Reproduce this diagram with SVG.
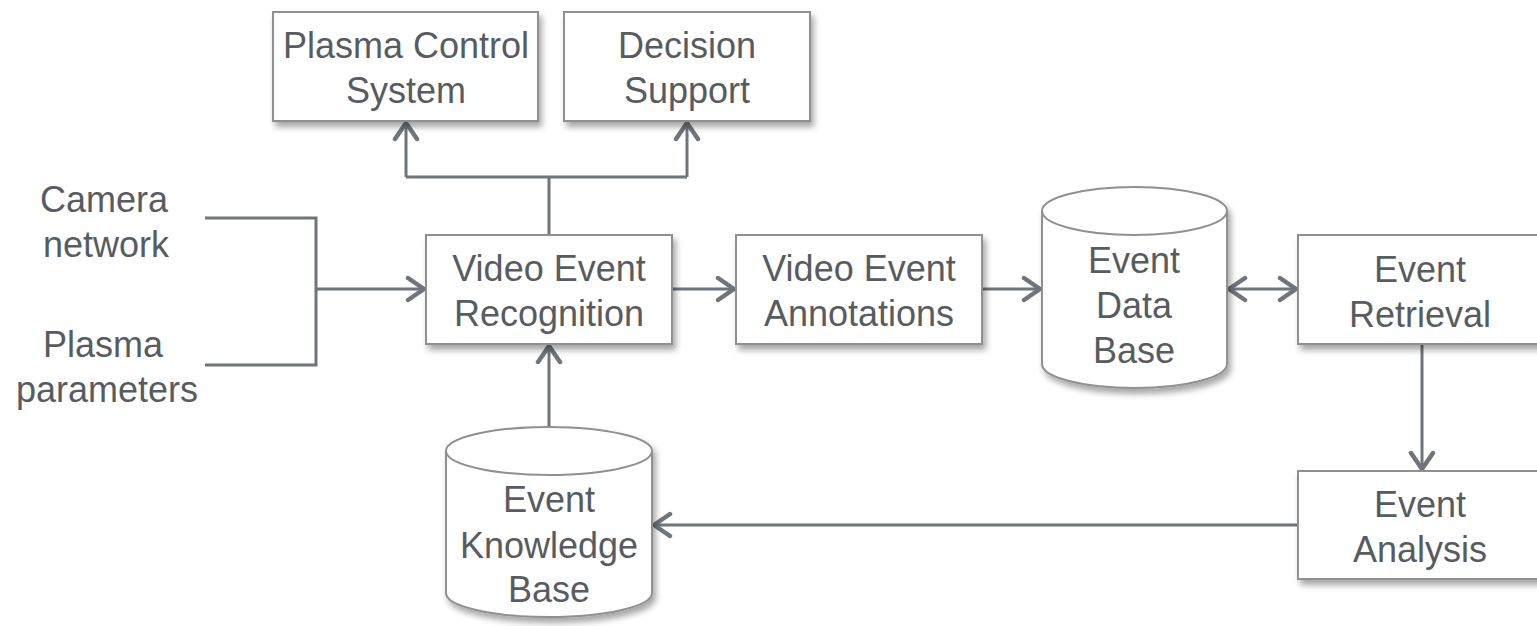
<svg xmlns="http://www.w3.org/2000/svg" width="1537" height="626" viewBox="0 0 1537 626">
<style>
.box{fill:#fff;stroke:#909090;stroke-width:2;}
.t{font-family:"Liberation Sans",Arial,sans-serif;font-size:36px;fill:#575c61;text-anchor:middle;}
.c{fill:none;stroke:#6f757b;stroke-width:3;}
</style>
<defs>
<filter id="sh" x="-10%" y="-10%" width="125%" height="135%">
<feDropShadow dx="3" dy="5" stdDeviation="3" flood-color="#000" flood-opacity="0.35"/>
</filter>
<marker id="ah" viewBox="-22 -14 26 28" markerWidth="26" markerHeight="28" refX="0" refY="0" orient="auto-start-reverse" markerUnits="userSpaceOnUse">
<path d="M -17 -11 L -1 0 L -17 11" fill="none" stroke="#6f757b" stroke-width="4.5" stroke-linecap="round" stroke-linejoin="round"/>
</marker>
</defs>
<rect width="1537" height="626" fill="#fff"/>

<g id="connectors">
<path class="c" d="M 549 235 L 549 177"/>
<path class="c" d="M 406 177 L 687 177"/>
<path class="c" d="M 406 177 L 406 122" marker-end="url(#ah)"/>
<path class="c" d="M 687 177 L 687 122" marker-end="url(#ah)"/>
<path class="c" d="M 205 218 L 316 218 L 316 365 L 205 365"/>
<path class="c" d="M 316 289 L 425 289" marker-end="url(#ah)"/>
<path class="c" d="M 672 289 L 735 289" marker-end="url(#ah)"/>
<path class="c" d="M 982 289 L 1041 289" marker-end="url(#ah)"/>
<path class="c" d="M 1228 289 L 1297 289" marker-start="url(#ah)" marker-end="url(#ah)"/>
<path class="c" d="M 1422 344 L 1422 470" marker-end="url(#ah)"/>
<path class="c" d="M 1298 525 L 653 525" marker-end="url(#ah)"/>
<path class="c" d="M 549 427 L 549 345" marker-end="url(#ah)"/>
</g>

<g id="plasma-control-system">
<rect class="box" x="273" y="12" width="265" height="109" filter="url(#sh)"/>
<text class="t" x="406" y="58">Plasma Control</text>
<text class="t" x="406" y="103">System</text>
</g>

<g id="decision-support">
<rect class="box" x="564" y="12" width="246" height="109" filter="url(#sh)"/>
<text class="t" x="687" y="58">Decision</text>
<text class="t" x="687" y="103">Support</text>
</g>

<g id="camera-network">
<text class="t" x="104" y="212">Camera</text>
<text class="t" x="106" y="257">network</text>
</g>

<g id="plasma-parameters">
<text class="t" x="103" y="357">Plasma</text>
<text class="t" x="107" y="402">parameters</text>
</g>

<g id="video-event-recognition">
<rect class="box" x="426" y="235" width="246" height="109" filter="url(#sh)"/>
<text class="t" x="549" y="281">Video Event</text>
<text class="t" x="549" y="326">Recognition</text>
</g>

<g id="video-event-annotations">
<rect class="box" x="736" y="235" width="246" height="109" filter="url(#sh)"/>
<text class="t" x="859" y="281">Video Event</text>
<text class="t" x="859" y="326">Annotations</text>
</g>

<g id="event-data-base">
<path class="box" d="M 1042 211 A 92.5 24 0 0 1 1227 211 L 1227 364 A 92.5 24 0 0 1 1042 364 Z" filter="url(#sh)"/>
<path class="box" d="M 1042 211 A 92.5 24 0 0 0 1227 211" style="fill:none"/>
<text class="t" x="1134" y="273">Event</text>
<text class="t" x="1134" y="318">Data</text>
<text class="t" x="1134" y="363">Base</text>
</g>

<g id="event-retrieval">
<rect class="box" x="1298" y="235" width="246" height="109" filter="url(#sh)"/>
<text class="t" x="1420" y="282">Event</text>
<text class="t" x="1420" y="327">Retrieval</text>
</g>

<g id="event-analysis">
<rect class="box" x="1298" y="471" width="246" height="108" filter="url(#sh)"/>
<text class="t" x="1420" y="517">Event</text>
<text class="t" x="1420" y="562">Analysis</text>
</g>

<g id="event-knowledge-base">
<path class="box" d="M 446 451 A 103 24 0 0 1 652 451 L 652 593 A 103 24 0 0 1 446 593 Z" filter="url(#sh)"/>
<path class="box" d="M 446 451 A 103 24 0 0 0 652 451" style="fill:none"/>
<text class="t" x="549" y="512">Event</text>
<text class="t" x="549" y="558">Knowledge</text>
<text class="t" x="549" y="602">Base</text>
</g>
</svg>
